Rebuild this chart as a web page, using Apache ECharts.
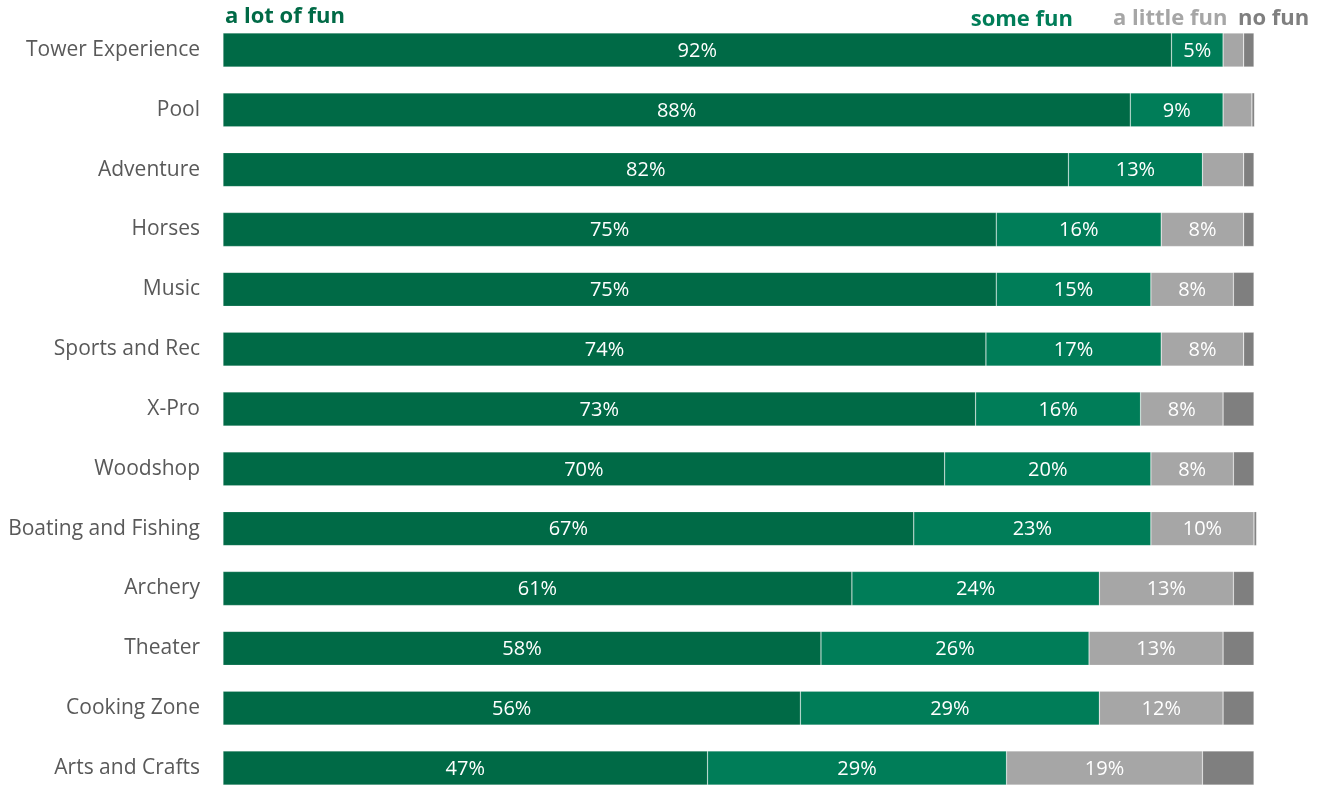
<!DOCTYPE html>
<html><head><meta charset="utf-8">
<script src="https://cdn.jsdelivr.net/npm/echarts@6/dist/echarts.min.js"></script>
<style>html,body{margin:0;padding:0;background:#fff}#c{width:1329px;height:786px}</style>
</head><body><div id="c"></div>
<script>
var categories = ["Tower Experience","Pool","Adventure","Horses","Music","Sports and Rec","X-Pro","Woodshop","Boating and Fishing","Archery","Theater","Cooking Zone","Arts and Crafts"];
var seriesNames = ["a lot of fun","some fun","a little fun","no fun"];
var aLotOfFun = [92,88,82,75,75,74,73,70,67,61,58,56,47];
var someFun   = [5,9,13,16,15,17,16,20,23,24,26,29,29];
var aLittleFun= [2,2.8,4,8,8,8,8,8,10,13,13,12,19];
var noFun     = [1,0.25,1,1,2,1,3,2,0.25,2,3,3,5];
var colors = ["#006A46","#007D58","#A6A6A6","#7F7F7F"];
var FONT = "'Open Sans'";

var chart = echarts.init(document.getElementById('c'));
var values = [aLotOfFun, someFun, aLittleFun, noFun];
var series = values.map(function(v,i){
  return {
    name: seriesNames[i], type:'bar', stack:'t', barWidth:34, data:v, clip:false,
    itemStyle:{color:colors[i], borderColor:'rgba(255,255,255,0.3)', borderWidth:0.6},
    label:{show:i<3, position:'inside', color:'#fff', fontFamily:'Open Sans', fontSize:20, offset:[0,1],
      formatter:function(p){return p.value>=5 ? Math.round(p.value)+'%' : '';}},
    emphasis:{disabled:true}
  };
});
chart.setOption({
  animation:false,
  grid:{left:223, top:50, width:1031, bottom:18, containLabel:false},
  xAxis:{type:'value', min:0, max:100, show:false},
  yAxis:{type:'category', inverse:true, data:categories, boundaryGap:false,
    axisLine:{show:false}, axisTick:{show:false}, splitLine:{show:false},
    axisLabel:{color:'#595959', fontFamily:'Open Sans', fontSize:21, margin:23}},
  series:series,
  graphic:[
    {type:'text', x:225, y:17, style:{text:seriesNames[0], fill:colors[0], font:'bold 22px '+FONT, textAlign:'left', textVerticalAlign:'middle'}},
    {type:'text', x:1073, y:20, style:{text:seriesNames[1], fill:colors[1], font:'bold 22px '+FONT, textAlign:'right', textVerticalAlign:'middle'}},
    {type:'text', x:1113, y:19, style:{text:seriesNames[2], fill:colors[2], font:'bold 22px '+FONT, textAlign:'left', textVerticalAlign:'middle'}},
    {type:'text', x:1238, y:19, style:{text:seriesNames[3], fill:colors[3], font:'bold 22px '+FONT, textAlign:'left', textVerticalAlign:'middle'}}
  ]
});
</script></body></html>
